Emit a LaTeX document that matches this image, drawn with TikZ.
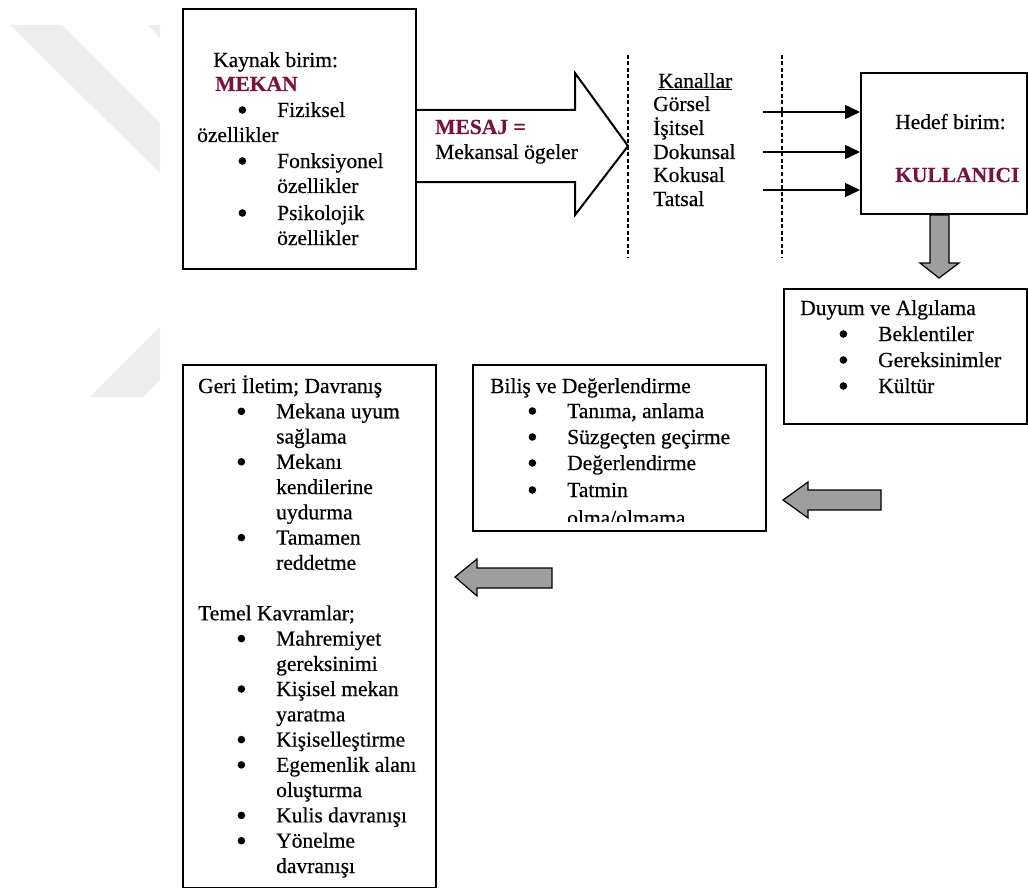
\documentclass[tikz,border=0pt]{standalone}
\usepackage{fontspec}
\setmainfont{Liberation Serif}[FakeBold=0.5]
\usetikzlibrary{arrows.meta}
\definecolor{maroon}{RGB}{122,18,64}
\definecolor{wm}{RGB}{237,237,237}
\definecolor{garrow}{RGB}{158,158,158}
\newcommand{\bul}{\llap{\tikz[baseline=-7pt]\fill[black] (0,0) circle (3.8pt);\hspace{31pt}}}
\begin{document}
\begin{tikzpicture}[x=1pt,y=-1pt,
  font=\fontsize{21.5}{25}\selectfont,
  box/.style={draw, line width=2pt, fill=white, inner sep=0pt, anchor=north west},
  txt/.style={anchor=base west, inner sep=0pt},
  hl/.style={txt, font=\fontsize{21.5}{25}\selectfont\bfseries, text=maroon},
  dashline/.style={line width=1.5pt, dash pattern=on 4pt off 2.5pt},
  chan/.style={line width=1.5pt, -{Triangle[length=15pt,width=14pt]}},
  grayarrow/.style={fill=garrow, draw=black, line width=1.2pt, line join=miter},
  hollow/.style={draw=black, fill=white, line width=2pt, line join=miter}]
\useasboundingbox (0,0) rectangle (1028,888);
\fill[white] (0,0) rectangle (1028,888);
% watermark
\begin{scope}
  \clip (0,0) rectangle (160,888);
  \fill[wm] (10,25) -- (62,25) -- (170,133) -- (170,183) -- cycle;
  \fill[wm] (147,25) -- (200,25) -- (200,78) -- cycle;
  \fill[wm] (90,397) -- (143,397) -- (200,340) -- (200,287) -- cycle;
\end{scope}

% boxes
\node[box, minimum width=233pt, minimum height=260pt] (kaynak) at (182,8) {};
\node[box, minimum width=166pt, minimum height=141pt] (hedef) at (860,72) {};
\node[box, minimum width=243pt, minimum height=135pt] (duyum) at (783,288) {};
\node[box, minimum width=293pt, minimum height=166pt] (bilis) at (472,364) {};
\node[box, minimum width=253pt, minimum height=523pt] (geri) at (182,364) {};

% big hollow arrow (message)
\draw[hollow] (kaynak.east |- 0,110) -- (575,110) -- (575,73) -- (628,146)
  -- (575,215) -- (575,182) -- (kaynak.east |- 0,182);

% dashed channel borders
\draw[dashline] (628,55) -- (628,257);
\draw[dashline] (782,55) -- (782,257);

% channel arrows
\coordinate (a1) at (763,112);
\coordinate (a2) at (763,152);
\coordinate (a3) at (763,190);
\draw[chan] (a1) -- (a1 -| hedef.west);
\draw[chan] (a2) -- (a2 -| hedef.west);
\draw[chan] (a3) -- (a3 -| hedef.west);

% gray block arrows
\draw[grayarrow] (930,215) -- (949,215) -- (949,263) -- (959,263) -- (939,278)
  -- (920,263) -- (930,263) -- cycle;
\draw[grayarrow] (881,490) -- (808,490) -- (808,482) -- (783,500) -- (808,518)
  -- (808,510) -- (881,510) -- cycle;
\draw[grayarrow] (552,568) -- (477,568) -- (477,559) -- (455,577) -- (477,596)
  -- (477,588) -- (552,588) -- cycle;

% Kaynak texts
\node[txt] (k1) at (213,67) {Kaynak birim:};
\node[hl]  (k2) at (215,91) {MEKAN};
\node[txt] (k3) at (277,117) {\bul Fiziksel};
\node[txt] (k4) at (197,142) {özellikler};
\node[txt] (k5) at (277,168) {\bul Fonksiyonel};
\node[txt] (k6) at (277,193) {özellikler};
\node[txt] (k7) at (277,220) {\bul Psikolojik};
\node[txt] (k8) at (277,245) {özellikler};

% message
\node[hl]  (m1) at (435,134) {MESAJ =};
\node[txt] (m2) at (435,159) {Mekansal ögeler};

% channels
\node[txt] (c0) at (658,88) {\underline{Kanallar}};
\node[txt] (c1) at (653,111) {Görsel};
\node[txt] (c2) at (653,135) {İşitsel};
\node[txt] (c3) at (653,159) {Dokunsal};
\node[txt] (c4) at (653,182) {Kokusal};
\node[txt] (c5) at (653,206) {Tatsal};

% Hedef
\node[txt] (h1) at (895,129) {Hedef birim:};
\node[hl]  (h2) at (895,182) {KULLANICI};

% Duyum
\node[txt] (d1) at (800,315) {Duyum ve Algılama};
\node[txt] (d2) at (878,341) {\bul Beklentiler};
\node[txt] (d3) at (878,367) {\bul Gereksinimler};
\node[txt] (d4) at (878,393) {\bul Kültür};

% Bilis
\begin{scope}
  \clip (472,364) rectangle (765,521);
  \node[txt] (b1) at (490,393) {Biliş ve Değerlendirme};
  \node[txt] (b2) at (567,418) {\bul Tanıma, anlama};
  \node[txt] (b3) at (567,444) {\bul Süzgeçten geçirme};
  \node[txt] (b4) at (567,470) {\bul Değerlendirme};
  \node[txt] (b5) at (567,497) {\bul Tatmin};
  \node[txt] (b6) at (567,525) {olma/olmama};
\end{scope}

% Geri iletim
\node[txt] (g1)  at (198,393)   {Geri İletim; Davranış};
\node[txt] (g2)  at (276,418.3) {\bul Mekana uyum};
\node[txt] (g3)  at (276,443.5) {sağlama};
\node[txt] (g4)  at (276,468.8) {\bul Mekanı};
\node[txt] (g5)  at (276,494)   {kendilerine};
\node[txt] (g6)  at (276,519.3) {uydurma};
\node[txt] (g7)  at (276,544.6) {\bul Tamamen};
\node[txt] (g8)  at (276,569.8) {reddetme};
\node[txt] (g9)  at (198,620.3) {Temel Kavramlar;};
\node[txt] (g10) at (276,645.6) {\bul Mahremiyet};
\node[txt] (g11) at (276,670.9) {gereksinimi};
\node[txt] (g12) at (276,696)   {\bul Kişisel mekan};
\node[txt] (g13) at (276,721.4) {yaratma};
\node[txt] (g14) at (276,746.6) {\bul Kişiselleştirme};
\node[txt] (g15) at (276,771.9) {\bul Egemenlik alanı};
\node[txt] (g16) at (276,797)   {oluşturma};
\node[txt] (g17) at (276,822.4) {\bul Kulis davranışı};
\node[txt] (g18) at (276,847.7) {\bul Yönelme};
\node[txt] (g19) at (276,873)   {davranışı};
\end{tikzpicture}
\end{document}
